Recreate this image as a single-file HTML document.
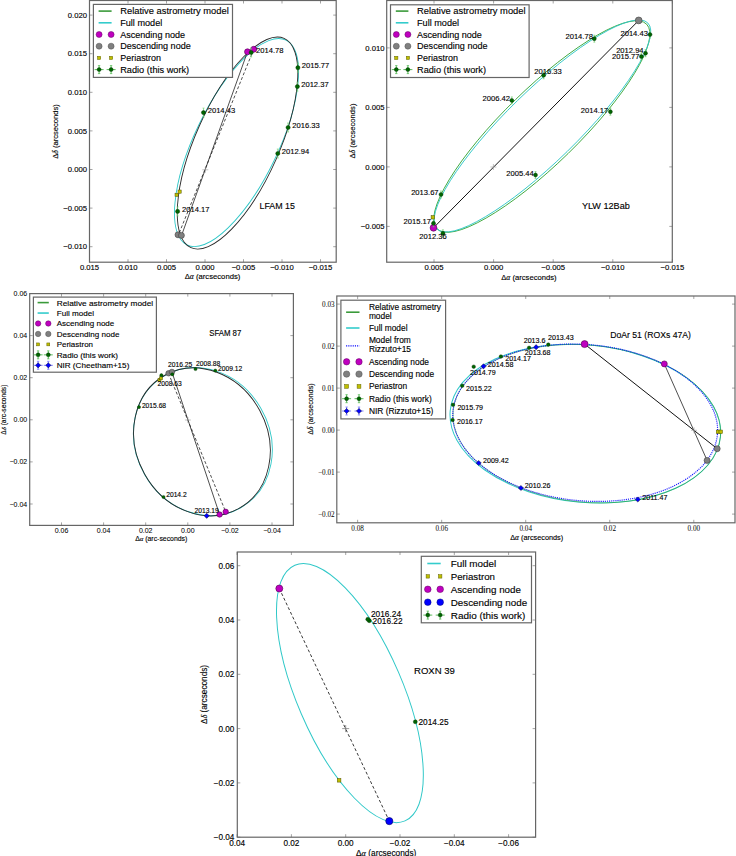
<!DOCTYPE html>
<html><head><meta charset="utf-8"><style>
html,body{margin:0;padding:0;background:#fff;}
body{width:736px;height:856px;overflow:hidden;}
svg{display:block;}
</style></head><body>
<svg width="736" height="856" viewBox="0 0 736 856">
<rect width="736" height="856" fill="#fff"/>
<clipPath id="c1"><rect x="89.5" y="0.5" width="246.7" height="261.7"/></clipPath>
<g clip-path="url(#c1)">
<ellipse cx="236.53" cy="142.57" rx="113.74" ry="41.66" transform="rotate(-64.226 236.53 142.57)" fill="none" stroke="#30c8c8" stroke-width="0.9"/>
<ellipse cx="237.53" cy="143.05" rx="114.56" ry="41.85" transform="rotate(-65.997 237.53 143.05)" fill="none" stroke="#2a2a2a" stroke-width="0.9"/>
<line x1="247.50" y1="51.80" x2="181.50" y2="235.60" stroke="#222" stroke-width="0.8"/>
<line x1="253.70" y1="49.30" x2="178.30" y2="235.20" stroke="#222" stroke-width="0.8" stroke-dasharray="3,2"/>
<line x1="202.30" y1="169.80" x2="208.30" y2="169.80" stroke="#999" stroke-width="0.6"/>
<line x1="205.30" y1="166.80" x2="205.30" y2="172.80" stroke="#999" stroke-width="0.6"/>
<rect x="175.00" y="193.20" width="3.2" height="3.2" fill="#bfbf00" stroke="#505000" stroke-width="0.5"/>
<rect x="178.00" y="190.00" width="3.2" height="3.2" fill="#bfbf00" stroke="#505000" stroke-width="0.5"/>
<circle cx="178.00" cy="234.80" r="3.0" fill="#808080" stroke="#404040" stroke-width="0.6"/>
<circle cx="181.40" cy="235.40" r="3.0" fill="#808080" stroke="#404040" stroke-width="0.6"/>
<circle cx="247.50" cy="51.80" r="3.0" fill="#bf00bf" stroke="#500050" stroke-width="0.6"/>
<circle cx="253.70" cy="49.30" r="3.0" fill="#bf00bf" stroke="#500050" stroke-width="0.6"/>
<line x1="250.20" y1="52.50" x2="252.20" y2="52.50" stroke="#6fcf6f" stroke-width="0.7"/>
<line x1="251.20" y1="48.00" x2="251.20" y2="57.00" stroke="#6fcf6f" stroke-width="0.7"/>
<line x1="250.20" y1="48.00" x2="252.20" y2="48.00" stroke="#6fcf6f" stroke-width="0.6"/>
<line x1="250.20" y1="57.00" x2="252.20" y2="57.00" stroke="#6fcf6f" stroke-width="0.6"/>
<circle cx="251.20" cy="52.50" r="2.1" fill="#006400" stroke="#003000" stroke-width="0.4"/>
<text x="256.00" y="53.34" font-size="7.6" text-anchor="start" font-family='"Liberation Sans", sans-serif' fill="#000" stroke="#000" stroke-width="0.13">2014.78</text>
<line x1="296.90" y1="67.70" x2="298.90" y2="67.70" stroke="#6fcf6f" stroke-width="0.7"/>
<line x1="297.90" y1="63.20" x2="297.90" y2="72.20" stroke="#6fcf6f" stroke-width="0.7"/>
<line x1="296.90" y1="63.20" x2="298.90" y2="63.20" stroke="#6fcf6f" stroke-width="0.6"/>
<line x1="296.90" y1="72.20" x2="298.90" y2="72.20" stroke="#6fcf6f" stroke-width="0.6"/>
<circle cx="297.90" cy="67.70" r="2.1" fill="#006400" stroke="#003000" stroke-width="0.4"/>
<text x="301.80" y="68.24" font-size="7.6" text-anchor="start" font-family='"Liberation Sans", sans-serif' fill="#000" stroke="#000" stroke-width="0.13">2015.77</text>
<line x1="296.40" y1="86.60" x2="298.40" y2="86.60" stroke="#6fcf6f" stroke-width="0.7"/>
<line x1="297.40" y1="82.10" x2="297.40" y2="91.10" stroke="#6fcf6f" stroke-width="0.7"/>
<line x1="296.40" y1="82.10" x2="298.40" y2="82.10" stroke="#6fcf6f" stroke-width="0.6"/>
<line x1="296.40" y1="91.10" x2="298.40" y2="91.10" stroke="#6fcf6f" stroke-width="0.6"/>
<circle cx="297.40" cy="86.60" r="2.1" fill="#006400" stroke="#003000" stroke-width="0.4"/>
<text x="301.20" y="87.24" font-size="7.6" text-anchor="start" font-family='"Liberation Sans", sans-serif' fill="#000" stroke="#000" stroke-width="0.13">2012.37</text>
<line x1="202.50" y1="112.60" x2="204.50" y2="112.60" stroke="#6fcf6f" stroke-width="0.7"/>
<line x1="203.50" y1="108.10" x2="203.50" y2="117.10" stroke="#6fcf6f" stroke-width="0.7"/>
<line x1="202.50" y1="108.10" x2="204.50" y2="108.10" stroke="#6fcf6f" stroke-width="0.6"/>
<line x1="202.50" y1="117.10" x2="204.50" y2="117.10" stroke="#6fcf6f" stroke-width="0.6"/>
<circle cx="203.50" cy="112.60" r="2.1" fill="#006400" stroke="#003000" stroke-width="0.4"/>
<text x="207.70" y="113.04" font-size="7.6" text-anchor="start" font-family='"Liberation Sans", sans-serif' fill="#000" stroke="#000" stroke-width="0.13">2014.43</text>
<line x1="287.10" y1="127.50" x2="289.10" y2="127.50" stroke="#6fcf6f" stroke-width="0.7"/>
<line x1="288.10" y1="123.00" x2="288.10" y2="132.00" stroke="#6fcf6f" stroke-width="0.7"/>
<line x1="287.10" y1="123.00" x2="289.10" y2="123.00" stroke="#6fcf6f" stroke-width="0.6"/>
<line x1="287.10" y1="132.00" x2="289.10" y2="132.00" stroke="#6fcf6f" stroke-width="0.6"/>
<circle cx="288.10" cy="127.50" r="2.1" fill="#006400" stroke="#003000" stroke-width="0.4"/>
<text x="292.30" y="127.74" font-size="7.6" text-anchor="start" font-family='"Liberation Sans", sans-serif' fill="#000" stroke="#000" stroke-width="0.13">2016.33</text>
<line x1="276.80" y1="153.50" x2="278.80" y2="153.50" stroke="#6fcf6f" stroke-width="0.7"/>
<line x1="277.80" y1="149.00" x2="277.80" y2="158.00" stroke="#6fcf6f" stroke-width="0.7"/>
<line x1="276.80" y1="149.00" x2="278.80" y2="149.00" stroke="#6fcf6f" stroke-width="0.6"/>
<line x1="276.80" y1="158.00" x2="278.80" y2="158.00" stroke="#6fcf6f" stroke-width="0.6"/>
<circle cx="277.80" cy="153.50" r="2.1" fill="#006400" stroke="#003000" stroke-width="0.4"/>
<text x="281.80" y="154.24" font-size="7.6" text-anchor="start" font-family='"Liberation Sans", sans-serif' fill="#000" stroke="#000" stroke-width="0.13">2012.94</text>
<line x1="176.60" y1="211.40" x2="178.60" y2="211.40" stroke="#6fcf6f" stroke-width="0.7"/>
<line x1="177.60" y1="206.90" x2="177.60" y2="215.90" stroke="#6fcf6f" stroke-width="0.7"/>
<line x1="176.60" y1="206.90" x2="178.60" y2="206.90" stroke="#6fcf6f" stroke-width="0.6"/>
<line x1="176.60" y1="215.90" x2="178.60" y2="215.90" stroke="#6fcf6f" stroke-width="0.6"/>
<circle cx="177.60" cy="211.40" r="2.1" fill="#006400" stroke="#003000" stroke-width="0.4"/>
<text x="182.00" y="211.74" font-size="7.6" text-anchor="start" font-family='"Liberation Sans", sans-serif' fill="#000" stroke="#000" stroke-width="0.13">2014.17</text>
</g>
<rect x="89.5" y="0.5" width="246.7" height="261.7" fill="none" stroke="#666666" stroke-width="1.2"/>
<line x1="89.50" y1="0.50" x2="89.50" y2="3.50" stroke="#666666" stroke-width="0.6"/>
<line x1="89.50" y1="262.20" x2="89.50" y2="259.20" stroke="#666666" stroke-width="0.6"/>
<line x1="128.00" y1="0.50" x2="128.00" y2="3.50" stroke="#666666" stroke-width="0.6"/>
<line x1="128.00" y1="262.20" x2="128.00" y2="259.20" stroke="#666666" stroke-width="0.6"/>
<line x1="166.50" y1="0.50" x2="166.50" y2="3.50" stroke="#666666" stroke-width="0.6"/>
<line x1="166.50" y1="262.20" x2="166.50" y2="259.20" stroke="#666666" stroke-width="0.6"/>
<line x1="205.00" y1="0.50" x2="205.00" y2="3.50" stroke="#666666" stroke-width="0.6"/>
<line x1="205.00" y1="262.20" x2="205.00" y2="259.20" stroke="#666666" stroke-width="0.6"/>
<line x1="243.50" y1="0.50" x2="243.50" y2="3.50" stroke="#666666" stroke-width="0.6"/>
<line x1="243.50" y1="262.20" x2="243.50" y2="259.20" stroke="#666666" stroke-width="0.6"/>
<line x1="282.00" y1="0.50" x2="282.00" y2="3.50" stroke="#666666" stroke-width="0.6"/>
<line x1="282.00" y1="262.20" x2="282.00" y2="259.20" stroke="#666666" stroke-width="0.6"/>
<line x1="320.50" y1="0.50" x2="320.50" y2="3.50" stroke="#666666" stroke-width="0.6"/>
<line x1="320.50" y1="262.20" x2="320.50" y2="259.20" stroke="#666666" stroke-width="0.6"/>
<line x1="89.50" y1="15.10" x2="92.50" y2="15.10" stroke="#666666" stroke-width="0.6"/>
<line x1="336.20" y1="15.10" x2="333.20" y2="15.10" stroke="#666666" stroke-width="0.6"/>
<line x1="89.50" y1="53.70" x2="92.50" y2="53.70" stroke="#666666" stroke-width="0.6"/>
<line x1="336.20" y1="53.70" x2="333.20" y2="53.70" stroke="#666666" stroke-width="0.6"/>
<line x1="89.50" y1="92.30" x2="92.50" y2="92.30" stroke="#666666" stroke-width="0.6"/>
<line x1="336.20" y1="92.30" x2="333.20" y2="92.30" stroke="#666666" stroke-width="0.6"/>
<line x1="89.50" y1="130.90" x2="92.50" y2="130.90" stroke="#666666" stroke-width="0.6"/>
<line x1="336.20" y1="130.90" x2="333.20" y2="130.90" stroke="#666666" stroke-width="0.6"/>
<line x1="89.50" y1="169.50" x2="92.50" y2="169.50" stroke="#666666" stroke-width="0.6"/>
<line x1="336.20" y1="169.50" x2="333.20" y2="169.50" stroke="#666666" stroke-width="0.6"/>
<line x1="89.50" y1="208.10" x2="92.50" y2="208.10" stroke="#666666" stroke-width="0.6"/>
<line x1="336.20" y1="208.10" x2="333.20" y2="208.10" stroke="#666666" stroke-width="0.6"/>
<line x1="89.50" y1="246.70" x2="92.50" y2="246.70" stroke="#666666" stroke-width="0.6"/>
<line x1="336.20" y1="246.70" x2="333.20" y2="246.70" stroke="#666666" stroke-width="0.6"/>
<text x="89.50" y="270.37" font-size="7.7" text-anchor="middle" font-family='"Liberation Sans", sans-serif' fill="#000" stroke="#000" stroke-width="0.13">0.015</text>
<text x="128.00" y="270.37" font-size="7.7" text-anchor="middle" font-family='"Liberation Sans", sans-serif' fill="#000" stroke="#000" stroke-width="0.13">0.010</text>
<text x="166.50" y="270.37" font-size="7.7" text-anchor="middle" font-family='"Liberation Sans", sans-serif' fill="#000" stroke="#000" stroke-width="0.13">0.005</text>
<text x="205.00" y="270.37" font-size="7.7" text-anchor="middle" font-family='"Liberation Sans", sans-serif' fill="#000" stroke="#000" stroke-width="0.13">0.000</text>
<text x="243.50" y="270.37" font-size="7.7" text-anchor="middle" font-family='"Liberation Sans", sans-serif' fill="#000" stroke="#000" stroke-width="0.13">&#8722;0.005</text>
<text x="282.00" y="270.37" font-size="7.7" text-anchor="middle" font-family='"Liberation Sans", sans-serif' fill="#000" stroke="#000" stroke-width="0.13">&#8722;0.010</text>
<text x="320.50" y="270.37" font-size="7.7" text-anchor="middle" font-family='"Liberation Sans", sans-serif' fill="#000" stroke="#000" stroke-width="0.13">&#8722;0.015</text>
<text x="87.00" y="17.87" font-size="7.7" text-anchor="end" font-family='"Liberation Sans", sans-serif' fill="#000" stroke="#000" stroke-width="0.13">0.020</text>
<text x="87.00" y="56.47" font-size="7.7" text-anchor="end" font-family='"Liberation Sans", sans-serif' fill="#000" stroke="#000" stroke-width="0.13">0.015</text>
<text x="87.00" y="95.07" font-size="7.7" text-anchor="end" font-family='"Liberation Sans", sans-serif' fill="#000" stroke="#000" stroke-width="0.13">0.010</text>
<text x="87.00" y="133.67" font-size="7.7" text-anchor="end" font-family='"Liberation Sans", sans-serif' fill="#000" stroke="#000" stroke-width="0.13">0.005</text>
<text x="87.00" y="172.27" font-size="7.7" text-anchor="end" font-family='"Liberation Sans", sans-serif' fill="#000" stroke="#000" stroke-width="0.13">0.000</text>
<text x="87.00" y="210.87" font-size="7.7" text-anchor="end" font-family='"Liberation Sans", sans-serif' fill="#000" stroke="#000" stroke-width="0.13">&#8722;0.005</text>
<text x="87.00" y="249.47" font-size="7.7" text-anchor="end" font-family='"Liberation Sans", sans-serif' fill="#000" stroke="#000" stroke-width="0.13">&#8722;0.010</text>
<text x="212.50" y="279.21" font-size="7.8" text-anchor="middle" font-family='"Liberation Sans", sans-serif' fill="#000" stroke="#000" stroke-width="0.13" textLength="55.7" lengthAdjust="spacingAndGlyphs">&#916;<tspan font-family='"Liberation Serif", serif' font-style="italic">&#945;</tspan> (arcseconds)</text>
<text x="55.30" y="134.31" font-size="7.8" text-anchor="middle" font-family='"Liberation Sans", sans-serif' fill="#000" stroke="#000" stroke-width="0.13" transform="rotate(-90 55.30 131.50)" textLength="54.7" lengthAdjust="spacingAndGlyphs">&#916;<tspan font-family='"Liberation Serif", serif' font-style="italic">&#948;</tspan> (arcseconds)</text>
<rect x="93.4" y="4.4" width="139.1" height="73.0" fill="#fff" stroke="#666666" stroke-width="1.2"/>
<line x1="98.60" y1="11.10" x2="111.60" y2="11.10" stroke="#3a9a3a" stroke-width="1.6"/>
<text x="120.20" y="14.38" font-size="9.1" text-anchor="start" font-family='"Liberation Sans", sans-serif' fill="#000" stroke="#000" stroke-width="0.13" textLength="108.6" lengthAdjust="spacingAndGlyphs">Relative astrometry model</text>
<line x1="98.60" y1="22.80" x2="111.60" y2="22.80" stroke="#33cccc" stroke-width="1.6"/>
<text x="120.20" y="26.08" font-size="9.1" text-anchor="start" font-family='"Liberation Sans", sans-serif' fill="#000" stroke="#000" stroke-width="0.13" textLength="42.1" lengthAdjust="spacingAndGlyphs">Full model</text>
<circle cx="99.10" cy="34.50" r="3.0" fill="#bf00bf" stroke="#600060" stroke-width="0.5"/>
<circle cx="111.10" cy="34.50" r="3.0" fill="#bf00bf" stroke="#600060" stroke-width="0.5"/>
<text x="120.20" y="37.78" font-size="9.1" text-anchor="start" font-family='"Liberation Sans", sans-serif' fill="#000" stroke="#000" stroke-width="0.13" textLength="64.9" lengthAdjust="spacingAndGlyphs">Ascending node</text>
<circle cx="99.10" cy="46.20" r="3.0" fill="#808080" stroke="#505050" stroke-width="0.5"/>
<circle cx="111.10" cy="46.20" r="3.0" fill="#808080" stroke="#505050" stroke-width="0.5"/>
<text x="120.20" y="49.48" font-size="9.1" text-anchor="start" font-family='"Liberation Sans", sans-serif' fill="#000" stroke="#000" stroke-width="0.13" textLength="70.6" lengthAdjust="spacingAndGlyphs">Descending node</text>
<rect x="97.50" y="56.30" width="3.2" height="3.2" fill="#bfbf00" stroke="#606000" stroke-width="0.5"/>
<rect x="109.50" y="56.30" width="3.2" height="3.2" fill="#bfbf00" stroke="#606000" stroke-width="0.5"/>
<text x="120.20" y="61.18" font-size="9.1" text-anchor="start" font-family='"Liberation Sans", sans-serif' fill="#000" stroke="#000" stroke-width="0.13" textLength="40.9" lengthAdjust="spacingAndGlyphs">Periastron</text>
<line x1="94.60" y1="69.60" x2="103.60" y2="69.60" stroke="#4cb84c" stroke-width="0.9"/>
<line x1="99.10" y1="65.60" x2="99.10" y2="73.60" stroke="#4cb84c" stroke-width="0.9"/>
<line x1="106.60" y1="69.60" x2="115.60" y2="69.60" stroke="#4cb84c" stroke-width="0.9"/>
<line x1="111.10" y1="65.60" x2="111.10" y2="73.60" stroke="#4cb84c" stroke-width="0.9"/>
<line x1="97.90" y1="65.60" x2="100.30" y2="65.60" stroke="#4cb84c" stroke-width="0.7"/>
<line x1="97.90" y1="73.60" x2="100.30" y2="73.60" stroke="#4cb84c" stroke-width="0.7"/>
<line x1="109.90" y1="65.60" x2="112.30" y2="65.60" stroke="#4cb84c" stroke-width="0.7"/>
<line x1="109.90" y1="73.60" x2="112.30" y2="73.60" stroke="#4cb84c" stroke-width="0.7"/>
<circle cx="99.10" cy="69.60" r="2.0" fill="#006400" stroke="#003000" stroke-width="0.4"/>
<circle cx="111.10" cy="69.60" r="2.0" fill="#006400" stroke="#003000" stroke-width="0.4"/>
<text x="120.20" y="72.88" font-size="9.1" text-anchor="start" font-family='"Liberation Sans", sans-serif' fill="#000" stroke="#000" stroke-width="0.13" textLength="69.0" lengthAdjust="spacingAndGlyphs">Radio (this work)</text>
<text x="259.50" y="208.73" font-size="9.4" text-anchor="start" font-family='"Liberation Sans", sans-serif' fill="#000" stroke="#000" stroke-width="0.13" textLength="35.5" lengthAdjust="spacingAndGlyphs">LFAM 15</text>
<clipPath id="c2"><rect x="386.7" y="0.5" width="285.59999999999997" height="261.7"/></clipPath>
<g clip-path="url(#c2)">
<ellipse cx="541.83" cy="126.54" rx="146.48" ry="37.67" transform="rotate(-44.299 541.83 126.54)" fill="none" stroke="#3aa63a" stroke-width="0.9"/>
<ellipse cx="542.40" cy="125.98" rx="147.38" ry="35.57" transform="rotate(-44.299 542.40 125.98)" fill="none" stroke="#30c8c8" stroke-width="0.9"/>
<line x1="433.50" y1="227.80" x2="638.70" y2="20.50" stroke="#111" stroke-width="1.0"/>
<line x1="490.40" y1="167.00" x2="496.40" y2="167.00" stroke="#999" stroke-width="0.6"/>
<line x1="493.40" y1="164.00" x2="493.40" y2="170.00" stroke="#999" stroke-width="0.6"/>
<rect x="431.10" y="215.60" width="3.4" height="3.4" fill="#bfbf00" stroke="#505000" stroke-width="0.5"/>
<circle cx="433.50" cy="227.80" r="3.4" fill="#bf00bf" stroke="#500050" stroke-width="0.6"/>
<circle cx="638.70" cy="20.40" r="3.4" fill="#808080" stroke="#404040" stroke-width="0.6"/>
<line x1="593.30" y1="38.70" x2="595.30" y2="38.70" stroke="#6fcf6f" stroke-width="0.7"/>
<line x1="594.30" y1="35.20" x2="594.30" y2="42.20" stroke="#6fcf6f" stroke-width="0.7"/>
<line x1="593.30" y1="35.20" x2="595.30" y2="35.20" stroke="#6fcf6f" stroke-width="0.6"/>
<line x1="593.30" y1="42.20" x2="595.30" y2="42.20" stroke="#6fcf6f" stroke-width="0.6"/>
<circle cx="594.30" cy="38.70" r="2.0" fill="#006400" stroke="#003000" stroke-width="0.4"/>
<text x="592.90" y="39.24" font-size="7.6" text-anchor="end" font-family='"Liberation Sans", sans-serif' fill="#000" stroke="#000" stroke-width="0.13">2014.78</text>
<line x1="649.00" y1="34.60" x2="651.00" y2="34.60" stroke="#6fcf6f" stroke-width="0.7"/>
<line x1="650.00" y1="31.10" x2="650.00" y2="38.10" stroke="#6fcf6f" stroke-width="0.7"/>
<line x1="649.00" y1="31.10" x2="651.00" y2="31.10" stroke="#6fcf6f" stroke-width="0.6"/>
<line x1="649.00" y1="38.10" x2="651.00" y2="38.10" stroke="#6fcf6f" stroke-width="0.6"/>
<circle cx="650.00" cy="34.60" r="2.0" fill="#006400" stroke="#003000" stroke-width="0.4"/>
<text x="647.90" y="35.64" font-size="7.6" text-anchor="end" font-family='"Liberation Sans", sans-serif' fill="#000" stroke="#000" stroke-width="0.13">2014.43</text>
<line x1="644.50" y1="53.20" x2="646.50" y2="53.20" stroke="#6fcf6f" stroke-width="0.7"/>
<line x1="645.50" y1="49.70" x2="645.50" y2="56.70" stroke="#6fcf6f" stroke-width="0.7"/>
<line x1="644.50" y1="49.70" x2="646.50" y2="49.70" stroke="#6fcf6f" stroke-width="0.6"/>
<line x1="644.50" y1="56.70" x2="646.50" y2="56.70" stroke="#6fcf6f" stroke-width="0.6"/>
<circle cx="645.50" cy="53.20" r="2.0" fill="#006400" stroke="#003000" stroke-width="0.4"/>
<text x="643.60" y="53.24" font-size="7.6" text-anchor="end" font-family='"Liberation Sans", sans-serif' fill="#000" stroke="#000" stroke-width="0.13">2012.94</text>
<line x1="640.40" y1="56.60" x2="642.40" y2="56.60" stroke="#6fcf6f" stroke-width="0.7"/>
<line x1="641.40" y1="53.10" x2="641.40" y2="60.10" stroke="#6fcf6f" stroke-width="0.7"/>
<line x1="640.40" y1="53.10" x2="642.40" y2="53.10" stroke="#6fcf6f" stroke-width="0.6"/>
<line x1="640.40" y1="60.10" x2="642.40" y2="60.10" stroke="#6fcf6f" stroke-width="0.6"/>
<circle cx="641.40" cy="56.60" r="2.0" fill="#006400" stroke="#003000" stroke-width="0.4"/>
<text x="639.50" y="59.34" font-size="7.6" text-anchor="end" font-family='"Liberation Sans", sans-serif' fill="#000" stroke="#000" stroke-width="0.13">2015.77</text>
<line x1="542.60" y1="75.30" x2="544.60" y2="75.30" stroke="#6fcf6f" stroke-width="0.7"/>
<line x1="543.60" y1="71.80" x2="543.60" y2="78.80" stroke="#6fcf6f" stroke-width="0.7"/>
<line x1="542.60" y1="71.80" x2="544.60" y2="71.80" stroke="#6fcf6f" stroke-width="0.6"/>
<line x1="542.60" y1="78.80" x2="544.60" y2="78.80" stroke="#6fcf6f" stroke-width="0.6"/>
<circle cx="543.60" cy="75.30" r="2.0" fill="#006400" stroke="#003000" stroke-width="0.4"/>
<text x="534.30" y="73.74" font-size="7.6" text-anchor="start" font-family='"Liberation Sans", sans-serif' fill="#000" stroke="#000" stroke-width="0.13">2016.33</text>
<line x1="510.80" y1="100.40" x2="512.80" y2="100.40" stroke="#6fcf6f" stroke-width="0.7"/>
<line x1="511.80" y1="96.90" x2="511.80" y2="103.90" stroke="#6fcf6f" stroke-width="0.7"/>
<line x1="510.80" y1="96.90" x2="512.80" y2="96.90" stroke="#6fcf6f" stroke-width="0.6"/>
<line x1="510.80" y1="103.90" x2="512.80" y2="103.90" stroke="#6fcf6f" stroke-width="0.6"/>
<circle cx="511.80" cy="100.40" r="2.0" fill="#006400" stroke="#003000" stroke-width="0.4"/>
<text x="510.00" y="100.74" font-size="7.6" text-anchor="end" font-family='"Liberation Sans", sans-serif' fill="#000" stroke="#000" stroke-width="0.13">2006.42</text>
<line x1="609.40" y1="111.70" x2="611.40" y2="111.70" stroke="#6fcf6f" stroke-width="0.7"/>
<line x1="610.40" y1="108.20" x2="610.40" y2="115.20" stroke="#6fcf6f" stroke-width="0.7"/>
<line x1="609.40" y1="108.20" x2="611.40" y2="108.20" stroke="#6fcf6f" stroke-width="0.6"/>
<line x1="609.40" y1="115.20" x2="611.40" y2="115.20" stroke="#6fcf6f" stroke-width="0.6"/>
<circle cx="610.40" cy="111.70" r="2.0" fill="#006400" stroke="#003000" stroke-width="0.4"/>
<text x="608.30" y="112.74" font-size="7.6" text-anchor="end" font-family='"Liberation Sans", sans-serif' fill="#000" stroke="#000" stroke-width="0.13">2014.17</text>
<line x1="534.50" y1="175.00" x2="536.50" y2="175.00" stroke="#6fcf6f" stroke-width="0.7"/>
<line x1="535.50" y1="171.50" x2="535.50" y2="178.50" stroke="#6fcf6f" stroke-width="0.7"/>
<line x1="534.50" y1="171.50" x2="536.50" y2="171.50" stroke="#6fcf6f" stroke-width="0.6"/>
<line x1="534.50" y1="178.50" x2="536.50" y2="178.50" stroke="#6fcf6f" stroke-width="0.6"/>
<circle cx="535.50" cy="175.00" r="2.0" fill="#006400" stroke="#003000" stroke-width="0.4"/>
<text x="533.70" y="175.74" font-size="7.6" text-anchor="end" font-family='"Liberation Sans", sans-serif' fill="#000" stroke="#000" stroke-width="0.13">2005.44</text>
<line x1="440.00" y1="194.50" x2="442.00" y2="194.50" stroke="#6fcf6f" stroke-width="0.7"/>
<line x1="441.00" y1="191.00" x2="441.00" y2="198.00" stroke="#6fcf6f" stroke-width="0.7"/>
<line x1="440.00" y1="191.00" x2="442.00" y2="191.00" stroke="#6fcf6f" stroke-width="0.6"/>
<line x1="440.00" y1="198.00" x2="442.00" y2="198.00" stroke="#6fcf6f" stroke-width="0.6"/>
<circle cx="441.00" cy="194.50" r="2.0" fill="#006400" stroke="#003000" stroke-width="0.4"/>
<text x="438.60" y="195.04" font-size="7.6" text-anchor="end" font-family='"Liberation Sans", sans-serif' fill="#000" stroke="#000" stroke-width="0.13">2013.67</text>
<line x1="432.50" y1="223.30" x2="434.50" y2="223.30" stroke="#6fcf6f" stroke-width="0.7"/>
<line x1="433.50" y1="219.80" x2="433.50" y2="226.80" stroke="#6fcf6f" stroke-width="0.7"/>
<line x1="432.50" y1="219.80" x2="434.50" y2="219.80" stroke="#6fcf6f" stroke-width="0.6"/>
<line x1="432.50" y1="226.80" x2="434.50" y2="226.80" stroke="#6fcf6f" stroke-width="0.6"/>
<circle cx="433.50" cy="223.30" r="2.0" fill="#006400" stroke="#003000" stroke-width="0.4"/>
<text x="431.00" y="223.84" font-size="7.6" text-anchor="end" font-family='"Liberation Sans", sans-serif' fill="#000" stroke="#000" stroke-width="0.13">2015.17</text>
<line x1="441.90" y1="233.30" x2="443.90" y2="233.30" stroke="#6fcf6f" stroke-width="0.7"/>
<line x1="442.90" y1="229.80" x2="442.90" y2="236.80" stroke="#6fcf6f" stroke-width="0.7"/>
<line x1="441.90" y1="229.80" x2="443.90" y2="229.80" stroke="#6fcf6f" stroke-width="0.6"/>
<line x1="441.90" y1="236.80" x2="443.90" y2="236.80" stroke="#6fcf6f" stroke-width="0.6"/>
<circle cx="442.90" cy="233.30" r="2.0" fill="#006400" stroke="#003000" stroke-width="0.4"/>
<text x="433.00" y="238.54" font-size="7.6" text-anchor="middle" font-family='"Liberation Sans", sans-serif' fill="#000" stroke="#000" stroke-width="0.13">2012.36</text>
</g>
<rect x="386.7" y="0.5" width="285.59999999999997" height="261.7" fill="none" stroke="#666666" stroke-width="1.2"/>
<line x1="434.00" y1="0.50" x2="434.00" y2="3.50" stroke="#666666" stroke-width="0.6"/>
<line x1="434.00" y1="262.20" x2="434.00" y2="259.20" stroke="#666666" stroke-width="0.6"/>
<line x1="493.60" y1="0.50" x2="493.60" y2="3.50" stroke="#666666" stroke-width="0.6"/>
<line x1="493.60" y1="262.20" x2="493.60" y2="259.20" stroke="#666666" stroke-width="0.6"/>
<line x1="553.20" y1="0.50" x2="553.20" y2="3.50" stroke="#666666" stroke-width="0.6"/>
<line x1="553.20" y1="262.20" x2="553.20" y2="259.20" stroke="#666666" stroke-width="0.6"/>
<line x1="612.80" y1="0.50" x2="612.80" y2="3.50" stroke="#666666" stroke-width="0.6"/>
<line x1="612.80" y1="262.20" x2="612.80" y2="259.20" stroke="#666666" stroke-width="0.6"/>
<line x1="672.40" y1="0.50" x2="672.40" y2="3.50" stroke="#666666" stroke-width="0.6"/>
<line x1="672.40" y1="262.20" x2="672.40" y2="259.20" stroke="#666666" stroke-width="0.6"/>
<line x1="386.70" y1="47.90" x2="389.70" y2="47.90" stroke="#666666" stroke-width="0.6"/>
<line x1="672.30" y1="47.90" x2="669.30" y2="47.90" stroke="#666666" stroke-width="0.6"/>
<line x1="386.70" y1="107.40" x2="389.70" y2="107.40" stroke="#666666" stroke-width="0.6"/>
<line x1="672.30" y1="107.40" x2="669.30" y2="107.40" stroke="#666666" stroke-width="0.6"/>
<line x1="386.70" y1="166.90" x2="389.70" y2="166.90" stroke="#666666" stroke-width="0.6"/>
<line x1="672.30" y1="166.90" x2="669.30" y2="166.90" stroke="#666666" stroke-width="0.6"/>
<line x1="386.70" y1="226.40" x2="389.70" y2="226.40" stroke="#666666" stroke-width="0.6"/>
<line x1="672.30" y1="226.40" x2="669.30" y2="226.40" stroke="#666666" stroke-width="0.6"/>
<text x="434.00" y="270.17" font-size="7.7" text-anchor="middle" font-family='"Liberation Sans", sans-serif' fill="#000" stroke="#000" stroke-width="0.13">0.005</text>
<text x="493.60" y="270.17" font-size="7.7" text-anchor="middle" font-family='"Liberation Sans", sans-serif' fill="#000" stroke="#000" stroke-width="0.13">0.000</text>
<text x="553.20" y="270.17" font-size="7.7" text-anchor="middle" font-family='"Liberation Sans", sans-serif' fill="#000" stroke="#000" stroke-width="0.13">&#8722;0.005</text>
<text x="612.80" y="270.17" font-size="7.7" text-anchor="middle" font-family='"Liberation Sans", sans-serif' fill="#000" stroke="#000" stroke-width="0.13">&#8722;0.010</text>
<text x="672.40" y="270.17" font-size="7.7" text-anchor="middle" font-family='"Liberation Sans", sans-serif' fill="#000" stroke="#000" stroke-width="0.13">&#8722;0.015</text>
<text x="384.50" y="50.67" font-size="7.7" text-anchor="end" font-family='"Liberation Sans", sans-serif' fill="#000" stroke="#000" stroke-width="0.13">0.010</text>
<text x="384.50" y="110.17" font-size="7.7" text-anchor="end" font-family='"Liberation Sans", sans-serif' fill="#000" stroke="#000" stroke-width="0.13">0.005</text>
<text x="384.50" y="169.67" font-size="7.7" text-anchor="end" font-family='"Liberation Sans", sans-serif' fill="#000" stroke="#000" stroke-width="0.13">0.000</text>
<text x="384.50" y="229.17" font-size="7.7" text-anchor="end" font-family='"Liberation Sans", sans-serif' fill="#000" stroke="#000" stroke-width="0.13">&#8722;0.005</text>
<text x="528.90" y="279.51" font-size="7.8" text-anchor="middle" font-family='"Liberation Sans", sans-serif' fill="#000" stroke="#000" stroke-width="0.13" textLength="55.5" lengthAdjust="spacingAndGlyphs">&#916;<tspan font-family='"Liberation Serif", serif' font-style="italic">&#945;</tspan> (arcseconds)</text>
<text x="352.60" y="133.81" font-size="7.8" text-anchor="middle" font-family='"Liberation Sans", sans-serif' fill="#000" stroke="#000" stroke-width="0.13" transform="rotate(-90 352.60 131.00)" textLength="55.0" lengthAdjust="spacingAndGlyphs">&#916;<tspan font-family='"Liberation Serif", serif' font-style="italic">&#948;</tspan> (arcseconds)</text>
<rect x="390.5" y="4.8" width="138.60000000000002" height="72.7" fill="#fff" stroke="#666666" stroke-width="1.2"/>
<line x1="395.80" y1="11.10" x2="408.40" y2="11.10" stroke="#3a9a3a" stroke-width="1.6"/>
<text x="417.00" y="14.38" font-size="9.1" text-anchor="start" font-family='"Liberation Sans", sans-serif' fill="#000" stroke="#000" stroke-width="0.13" textLength="108.6" lengthAdjust="spacingAndGlyphs">Relative astrometry model</text>
<line x1="395.80" y1="22.80" x2="408.40" y2="22.80" stroke="#33cccc" stroke-width="1.6"/>
<text x="417.00" y="26.08" font-size="9.1" text-anchor="start" font-family='"Liberation Sans", sans-serif' fill="#000" stroke="#000" stroke-width="0.13" textLength="42.1" lengthAdjust="spacingAndGlyphs">Full model</text>
<circle cx="396.30" cy="34.50" r="3.0" fill="#bf00bf" stroke="#600060" stroke-width="0.5"/>
<circle cx="407.90" cy="34.50" r="3.0" fill="#bf00bf" stroke="#600060" stroke-width="0.5"/>
<text x="417.00" y="37.78" font-size="9.1" text-anchor="start" font-family='"Liberation Sans", sans-serif' fill="#000" stroke="#000" stroke-width="0.13" textLength="64.9" lengthAdjust="spacingAndGlyphs">Ascending node</text>
<circle cx="396.30" cy="46.20" r="3.0" fill="#808080" stroke="#505050" stroke-width="0.5"/>
<circle cx="407.90" cy="46.20" r="3.0" fill="#808080" stroke="#505050" stroke-width="0.5"/>
<text x="417.00" y="49.48" font-size="9.1" text-anchor="start" font-family='"Liberation Sans", sans-serif' fill="#000" stroke="#000" stroke-width="0.13" textLength="70.6" lengthAdjust="spacingAndGlyphs">Descending node</text>
<rect x="394.70" y="56.30" width="3.2" height="3.2" fill="#bfbf00" stroke="#606000" stroke-width="0.5"/>
<rect x="406.30" y="56.30" width="3.2" height="3.2" fill="#bfbf00" stroke="#606000" stroke-width="0.5"/>
<text x="417.00" y="61.18" font-size="9.1" text-anchor="start" font-family='"Liberation Sans", sans-serif' fill="#000" stroke="#000" stroke-width="0.13" textLength="40.9" lengthAdjust="spacingAndGlyphs">Periastron</text>
<line x1="391.80" y1="69.60" x2="400.80" y2="69.60" stroke="#4cb84c" stroke-width="0.9"/>
<line x1="396.30" y1="65.60" x2="396.30" y2="73.60" stroke="#4cb84c" stroke-width="0.9"/>
<line x1="403.40" y1="69.60" x2="412.40" y2="69.60" stroke="#4cb84c" stroke-width="0.9"/>
<line x1="407.90" y1="65.60" x2="407.90" y2="73.60" stroke="#4cb84c" stroke-width="0.9"/>
<line x1="395.10" y1="65.60" x2="397.50" y2="65.60" stroke="#4cb84c" stroke-width="0.7"/>
<line x1="395.10" y1="73.60" x2="397.50" y2="73.60" stroke="#4cb84c" stroke-width="0.7"/>
<line x1="406.70" y1="65.60" x2="409.10" y2="65.60" stroke="#4cb84c" stroke-width="0.7"/>
<line x1="406.70" y1="73.60" x2="409.10" y2="73.60" stroke="#4cb84c" stroke-width="0.7"/>
<circle cx="396.30" cy="69.60" r="2.0" fill="#006400" stroke="#003000" stroke-width="0.4"/>
<circle cx="407.90" cy="69.60" r="2.0" fill="#006400" stroke="#003000" stroke-width="0.4"/>
<text x="417.00" y="72.88" font-size="9.1" text-anchor="start" font-family='"Liberation Sans", sans-serif' fill="#000" stroke="#000" stroke-width="0.13" textLength="69.0" lengthAdjust="spacingAndGlyphs">Radio (this work)</text>
<text x="581.90" y="209.08" font-size="9.4" text-anchor="start" font-family='"Liberation Sans", sans-serif' fill="#000" stroke="#000" stroke-width="0.13" textLength="47.9" lengthAdjust="spacingAndGlyphs">YLW 12Bab</text>
<clipPath id="c3"><rect x="29.7" y="293.6" width="263.7" height="231.79999999999995"/></clipPath>
<g clip-path="url(#c3)">
<ellipse cx="202.86" cy="441.61" rx="76.24" ry="66.89" transform="rotate(59.574 202.86 441.61)" fill="none" stroke="#30c8c8" stroke-width="0.9"/>
<ellipse cx="201.95" cy="441.83" rx="76.21" ry="65.76" transform="rotate(61.287 201.95 441.83)" fill="none" stroke="#2a2a2a" stroke-width="0.9"/>
<line x1="171.90" y1="371.90" x2="219.60" y2="514.50" stroke="#222" stroke-width="0.8"/>
<line x1="168.50" y1="373.30" x2="225.70" y2="511.80" stroke="#222" stroke-width="0.8" stroke-dasharray="3,2"/>
<line x1="184.90" y1="420.00" x2="190.90" y2="420.00" stroke="#999" stroke-width="0.6"/>
<line x1="187.90" y1="417.00" x2="187.90" y2="423.00" stroke="#999" stroke-width="0.6"/>
<rect x="158.00" y="378.50" width="3.0" height="3.0" fill="#bfbf00" stroke="#505000" stroke-width="0.5"/>
<rect x="159.50" y="376.80" width="3.0" height="3.0" fill="#bfbf00" stroke="#505000" stroke-width="0.5"/>
<circle cx="168.50" cy="373.30" r="2.7" fill="#808080" stroke="#404040" stroke-width="0.6"/>
<circle cx="171.90" cy="371.90" r="2.7" fill="#808080" stroke="#404040" stroke-width="0.6"/>
<circle cx="219.60" cy="514.50" r="2.7" fill="#bf00bf" stroke="#500050" stroke-width="0.6"/>
<circle cx="225.70" cy="511.80" r="2.7" fill="#bf00bf" stroke="#500050" stroke-width="0.6"/>
<circle cx="161.40" cy="375.20" r="1.6" fill="#006400" stroke="#003000" stroke-width="0.4"/>
<text x="157.60" y="385.71" font-size="6.7" text-anchor="start" font-family='"Liberation Sans", sans-serif' fill="#000" stroke="#000" stroke-width="0.13">2008.63</text>
<circle cx="172.30" cy="374.30" r="1.6" fill="#006400" stroke="#003000" stroke-width="0.4"/>
<text x="168.10" y="367.21" font-size="6.7" text-anchor="start" font-family='"Liberation Sans", sans-serif' fill="#000" stroke="#000" stroke-width="0.13">2016.25</text>
<circle cx="195.50" cy="369.00" r="1.6" fill="#006400" stroke="#003000" stroke-width="0.4"/>
<text x="196.00" y="365.71" font-size="6.7" text-anchor="start" font-family='"Liberation Sans", sans-serif' fill="#000" stroke="#000" stroke-width="0.13">2008.88</text>
<circle cx="215.30" cy="370.60" r="1.6" fill="#006400" stroke="#003000" stroke-width="0.4"/>
<text x="218.00" y="370.91" font-size="6.7" text-anchor="start" font-family='"Liberation Sans", sans-serif' fill="#000" stroke="#000" stroke-width="0.13">2009.12</text>
<circle cx="139.00" cy="407.10" r="1.6" fill="#006400" stroke="#003000" stroke-width="0.4"/>
<text x="141.90" y="407.61" font-size="6.7" text-anchor="start" font-family='"Liberation Sans", sans-serif' fill="#000" stroke="#000" stroke-width="0.13">2015.68</text>
<circle cx="163.50" cy="497.00" r="1.6" fill="#006400" stroke="#003000" stroke-width="0.4"/>
<text x="166.20" y="497.11" font-size="6.7" text-anchor="start" font-family='"Liberation Sans", sans-serif' fill="#000" stroke="#000" stroke-width="0.13">2014.2</text>
<path d="M206.70 513.20L209.30 515.80L206.70 518.40L204.10 515.80Z" fill="#0000ff" stroke="#000" stroke-width="0.4"/>
<text x="194.50" y="512.81" font-size="6.7" text-anchor="start" font-family='"Liberation Sans", sans-serif' fill="#000" stroke="#000" stroke-width="0.13">2013.19</text>
</g>
<rect x="29.7" y="293.6" width="263.7" height="231.79999999999995" fill="none" stroke="#666666" stroke-width="1.2"/>
<line x1="61.50" y1="293.60" x2="61.50" y2="296.60" stroke="#666666" stroke-width="0.6"/>
<line x1="61.50" y1="525.40" x2="61.50" y2="522.40" stroke="#666666" stroke-width="0.6"/>
<line x1="103.60" y1="293.60" x2="103.60" y2="296.60" stroke="#666666" stroke-width="0.6"/>
<line x1="103.60" y1="525.40" x2="103.60" y2="522.40" stroke="#666666" stroke-width="0.6"/>
<line x1="145.70" y1="293.60" x2="145.70" y2="296.60" stroke="#666666" stroke-width="0.6"/>
<line x1="145.70" y1="525.40" x2="145.70" y2="522.40" stroke="#666666" stroke-width="0.6"/>
<line x1="187.80" y1="293.60" x2="187.80" y2="296.60" stroke="#666666" stroke-width="0.6"/>
<line x1="187.80" y1="525.40" x2="187.80" y2="522.40" stroke="#666666" stroke-width="0.6"/>
<line x1="229.90" y1="293.60" x2="229.90" y2="296.60" stroke="#666666" stroke-width="0.6"/>
<line x1="229.90" y1="525.40" x2="229.90" y2="522.40" stroke="#666666" stroke-width="0.6"/>
<line x1="272.00" y1="293.60" x2="272.00" y2="296.60" stroke="#666666" stroke-width="0.6"/>
<line x1="272.00" y1="525.40" x2="272.00" y2="522.40" stroke="#666666" stroke-width="0.6"/>
<line x1="29.70" y1="293.50" x2="32.70" y2="293.50" stroke="#666666" stroke-width="0.6"/>
<line x1="293.40" y1="293.50" x2="290.40" y2="293.50" stroke="#666666" stroke-width="0.6"/>
<line x1="29.70" y1="335.60" x2="32.70" y2="335.60" stroke="#666666" stroke-width="0.6"/>
<line x1="293.40" y1="335.60" x2="290.40" y2="335.60" stroke="#666666" stroke-width="0.6"/>
<line x1="29.70" y1="377.70" x2="32.70" y2="377.70" stroke="#666666" stroke-width="0.6"/>
<line x1="293.40" y1="377.70" x2="290.40" y2="377.70" stroke="#666666" stroke-width="0.6"/>
<line x1="29.70" y1="419.80" x2="32.70" y2="419.80" stroke="#666666" stroke-width="0.6"/>
<line x1="293.40" y1="419.80" x2="290.40" y2="419.80" stroke="#666666" stroke-width="0.6"/>
<line x1="29.70" y1="461.90" x2="32.70" y2="461.90" stroke="#666666" stroke-width="0.6"/>
<line x1="293.40" y1="461.90" x2="290.40" y2="461.90" stroke="#666666" stroke-width="0.6"/>
<line x1="29.70" y1="504.00" x2="32.70" y2="504.00" stroke="#666666" stroke-width="0.6"/>
<line x1="293.40" y1="504.00" x2="290.40" y2="504.00" stroke="#666666" stroke-width="0.6"/>
<text x="61.50" y="532.82" font-size="7.0" text-anchor="middle" font-family='"Liberation Sans", sans-serif' fill="#000" stroke="#000" stroke-width="0.05">0.06</text>
<text x="103.60" y="532.82" font-size="7.0" text-anchor="middle" font-family='"Liberation Sans", sans-serif' fill="#000" stroke="#000" stroke-width="0.05">0.04</text>
<text x="145.70" y="532.82" font-size="7.0" text-anchor="middle" font-family='"Liberation Sans", sans-serif' fill="#000" stroke="#000" stroke-width="0.05">0.02</text>
<text x="187.80" y="532.82" font-size="7.0" text-anchor="middle" font-family='"Liberation Sans", sans-serif' fill="#000" stroke="#000" stroke-width="0.05">0.00</text>
<text x="229.90" y="532.82" font-size="7.0" text-anchor="middle" font-family='"Liberation Sans", sans-serif' fill="#000" stroke="#000" stroke-width="0.05">&#8722;0.02</text>
<text x="272.00" y="532.82" font-size="7.0" text-anchor="middle" font-family='"Liberation Sans", sans-serif' fill="#000" stroke="#000" stroke-width="0.05">&#8722;0.04</text>
<text x="27.20" y="296.02" font-size="7.0" text-anchor="end" font-family='"Liberation Sans", sans-serif' fill="#000" stroke="#000" stroke-width="0.05">0.06</text>
<text x="27.20" y="338.12" font-size="7.0" text-anchor="end" font-family='"Liberation Sans", sans-serif' fill="#000" stroke="#000" stroke-width="0.05">0.04</text>
<text x="27.20" y="380.22" font-size="7.0" text-anchor="end" font-family='"Liberation Sans", sans-serif' fill="#000" stroke="#000" stroke-width="0.05">0.02</text>
<text x="27.20" y="422.32" font-size="7.0" text-anchor="end" font-family='"Liberation Sans", sans-serif' fill="#000" stroke="#000" stroke-width="0.05">0.00</text>
<text x="27.20" y="464.42" font-size="7.0" text-anchor="end" font-family='"Liberation Sans", sans-serif' fill="#000" stroke="#000" stroke-width="0.05">&#8722;0.02</text>
<text x="27.20" y="506.52" font-size="7.0" text-anchor="end" font-family='"Liberation Sans", sans-serif' fill="#000" stroke="#000" stroke-width="0.05">&#8722;0.04</text>
<text x="161.20" y="540.82" font-size="7.0" text-anchor="middle" font-family='"Liberation Sans", sans-serif' fill="#000" stroke="#000" stroke-width="0.13" textLength="52.1" lengthAdjust="spacingAndGlyphs">&#916;<tspan font-family='"Liberation Serif", serif' font-style="italic">&#945;</tspan> (arc-seconds)</text>
<text x="3.20" y="412.22" font-size="7.0" text-anchor="middle" font-family='"Liberation Sans", sans-serif' fill="#000" stroke="#000" stroke-width="0.13" transform="rotate(-90 3.20 409.70)" textLength="50.2" lengthAdjust="spacingAndGlyphs">&#916;<tspan font-family='"Liberation Serif", serif' font-style="italic">&#948;</tspan> (arc-seconds)</text>
<rect x="33.4" y="297.1" width="123.0" height="75.09999999999997" fill="#fff" stroke="#666666" stroke-width="1.2"/>
<line x1="37.60" y1="302.60" x2="48.80" y2="302.60" stroke="#3a9a3a" stroke-width="1.6"/>
<text x="56.70" y="305.52" font-size="8.1" text-anchor="start" font-family='"Liberation Sans", sans-serif' fill="#000" stroke="#000" stroke-width="0.13" textLength="96.43679999999999" lengthAdjust="spacingAndGlyphs">Relative astrometry model</text>
<line x1="37.60" y1="313.05" x2="48.80" y2="313.05" stroke="#33cccc" stroke-width="1.6"/>
<text x="56.70" y="315.97" font-size="8.1" text-anchor="start" font-family='"Liberation Sans", sans-serif' fill="#000" stroke="#000" stroke-width="0.13" textLength="37.3848" lengthAdjust="spacingAndGlyphs">Full model</text>
<circle cx="38.10" cy="323.50" r="2.7" fill="#bf00bf" stroke="#600060" stroke-width="0.5"/>
<circle cx="48.30" cy="323.50" r="2.7" fill="#bf00bf" stroke="#600060" stroke-width="0.5"/>
<text x="56.70" y="326.42" font-size="8.1" text-anchor="start" font-family='"Liberation Sans", sans-serif' fill="#000" stroke="#000" stroke-width="0.13" textLength="57.63120000000001" lengthAdjust="spacingAndGlyphs">Ascending node</text>
<circle cx="38.10" cy="333.95" r="2.7" fill="#808080" stroke="#505050" stroke-width="0.5"/>
<circle cx="48.30" cy="333.95" r="2.7" fill="#808080" stroke="#505050" stroke-width="0.5"/>
<text x="56.70" y="336.87" font-size="8.1" text-anchor="start" font-family='"Liberation Sans", sans-serif' fill="#000" stroke="#000" stroke-width="0.13" textLength="62.6928" lengthAdjust="spacingAndGlyphs">Descending node</text>
<rect x="36.65" y="342.95" width="2.9" height="2.9" fill="#bfbf00" stroke="#606000" stroke-width="0.5"/>
<rect x="46.85" y="342.95" width="2.9" height="2.9" fill="#bfbf00" stroke="#606000" stroke-width="0.5"/>
<text x="56.70" y="347.32" font-size="8.1" text-anchor="start" font-family='"Liberation Sans", sans-serif' fill="#000" stroke="#000" stroke-width="0.13" textLength="36.3192" lengthAdjust="spacingAndGlyphs">Periastron</text>
<line x1="33.60" y1="354.85" x2="42.60" y2="354.85" stroke="#4cb84c" stroke-width="0.9"/>
<line x1="38.10" y1="350.85" x2="38.10" y2="358.85" stroke="#4cb84c" stroke-width="0.9"/>
<line x1="43.80" y1="354.85" x2="52.80" y2="354.85" stroke="#4cb84c" stroke-width="0.9"/>
<line x1="48.30" y1="350.85" x2="48.30" y2="358.85" stroke="#4cb84c" stroke-width="0.9"/>
<line x1="36.90" y1="350.85" x2="39.30" y2="350.85" stroke="#4cb84c" stroke-width="0.7"/>
<line x1="36.90" y1="358.85" x2="39.30" y2="358.85" stroke="#4cb84c" stroke-width="0.7"/>
<line x1="47.10" y1="350.85" x2="49.50" y2="350.85" stroke="#4cb84c" stroke-width="0.7"/>
<line x1="47.10" y1="358.85" x2="49.50" y2="358.85" stroke="#4cb84c" stroke-width="0.7"/>
<circle cx="38.10" cy="354.85" r="2.0" fill="#006400" stroke="#003000" stroke-width="0.4"/>
<circle cx="48.30" cy="354.85" r="2.0" fill="#006400" stroke="#003000" stroke-width="0.4"/>
<text x="56.70" y="357.77" font-size="8.1" text-anchor="start" font-family='"Liberation Sans", sans-serif' fill="#000" stroke="#000" stroke-width="0.13" textLength="61.272" lengthAdjust="spacingAndGlyphs">Radio (this work)</text>
<line x1="33.60" y1="365.30" x2="42.60" y2="365.30" stroke="#6f6fff" stroke-width="0.9"/>
<line x1="38.10" y1="361.30" x2="38.10" y2="369.30" stroke="#6f6fff" stroke-width="0.9"/>
<line x1="43.80" y1="365.30" x2="52.80" y2="365.30" stroke="#6f6fff" stroke-width="0.9"/>
<line x1="48.30" y1="361.30" x2="48.30" y2="369.30" stroke="#6f6fff" stroke-width="0.9"/>
<line x1="36.90" y1="361.30" x2="39.30" y2="361.30" stroke="#6f6fff" stroke-width="0.7"/>
<line x1="36.90" y1="369.30" x2="39.30" y2="369.30" stroke="#6f6fff" stroke-width="0.7"/>
<line x1="47.10" y1="361.30" x2="49.50" y2="361.30" stroke="#6f6fff" stroke-width="0.7"/>
<line x1="47.10" y1="369.30" x2="49.50" y2="369.30" stroke="#6f6fff" stroke-width="0.7"/>
<path d="M38.10 362.70L40.70 365.30L38.10 367.90L35.50 365.30Z" fill="#0000ff" stroke="#000" stroke-width="0.4"/>
<path d="M48.30 362.70L50.90 365.30L48.30 367.90L45.70 365.30Z" fill="#0000ff" stroke="#000" stroke-width="0.4"/>
<text x="56.70" y="368.22" font-size="8.1" text-anchor="start" font-family='"Liberation Sans", sans-serif' fill="#000" stroke="#000" stroke-width="0.13" textLength="72.6384" lengthAdjust="spacingAndGlyphs">NIR (Cheetham+15)</text>
<text x="209.20" y="336.02" font-size="8.4" text-anchor="start" font-family='"Liberation Sans", sans-serif' fill="#000" stroke="#000" stroke-width="0.13" textLength="32.1" lengthAdjust="spacingAndGlyphs">SFAM 87</text>
<clipPath id="c4"><rect x="336.8" y="296" width="398.2" height="226.79999999999995"/></clipPath>
<g clip-path="url(#c4)">
<ellipse cx="585.32" cy="423.67" rx="135.73" ry="78.68" transform="rotate(5.549 585.32 423.67)" fill="none" stroke="#30c8c8" stroke-width="1.0"/>
<ellipse cx="586.82" cy="423.67" rx="134.33" ry="78.58" transform="rotate(5.549 586.82 423.67)" fill="none" stroke="#2ea02e" stroke-width="0.9" stroke-opacity="0.6"/>
<ellipse cx="585.19" cy="422.74" rx="132.73" ry="78.14" transform="rotate(4.959 585.19 422.74)" fill="none" stroke="#1515ff" stroke-width="1.15" stroke-dasharray="1.1,1.0"/>
<line x1="584.60" y1="344.10" x2="717.20" y2="448.70" stroke="#111" stroke-width="1.0"/>
<line x1="664.30" y1="363.90" x2="707.10" y2="460.40" stroke="#222" stroke-width="0.8"/>
<line x1="691.00" y1="430.30" x2="697.00" y2="430.30" stroke="#999" stroke-width="0.6"/>
<line x1="694.00" y1="427.30" x2="694.00" y2="433.30" stroke="#999" stroke-width="0.6"/>
<rect x="716.25" y="430.05" width="3.5" height="3.5" fill="#bfbf00" stroke="#505000" stroke-width="0.5"/>
<rect x="718.95" y="430.05" width="3.5" height="3.5" fill="#bfbf00" stroke="#505000" stroke-width="0.5"/>
<circle cx="584.60" cy="344.10" r="3.5" fill="#bf00bf" stroke="#500050" stroke-width="0.6"/>
<circle cx="664.30" cy="363.90" r="3.0" fill="#bf00bf" stroke="#500050" stroke-width="0.6"/>
<circle cx="717.20" cy="448.70" r="3.0" fill="#808080" stroke="#404040" stroke-width="0.6"/>
<circle cx="707.10" cy="460.40" r="3.0" fill="#808080" stroke="#404040" stroke-width="0.6"/>
<circle cx="548.30" cy="344.60" r="1.8" fill="#006400" stroke="#003000" stroke-width="0.4"/>
<text x="548.00" y="339.56" font-size="7.1" text-anchor="start" font-family='"Liberation Sans", sans-serif' fill="#000" stroke="#000" stroke-width="0.13">2013.43</text>
<circle cx="529.10" cy="347.80" r="1.8" fill="#006400" stroke="#003000" stroke-width="0.4"/>
<text x="523.70" y="343.26" font-size="7.1" text-anchor="start" font-family='"Liberation Sans", sans-serif' fill="#000" stroke="#000" stroke-width="0.13">2013.6</text>
<circle cx="500.90" cy="356.50" r="1.8" fill="#006400" stroke="#003000" stroke-width="0.4"/>
<text x="505.20" y="361.26" font-size="7.1" text-anchor="start" font-family='"Liberation Sans", sans-serif' fill="#000" stroke="#000" stroke-width="0.13">2014.17</text>
<circle cx="473.70" cy="366.70" r="1.8" fill="#006400" stroke="#003000" stroke-width="0.4"/>
<text x="470.00" y="375.36" font-size="7.1" text-anchor="start" font-family='"Liberation Sans", sans-serif' fill="#000" stroke="#000" stroke-width="0.13">2014.79</text>
<circle cx="462.20" cy="385.70" r="1.8" fill="#006400" stroke="#003000" stroke-width="0.4"/>
<text x="466.10" y="390.56" font-size="7.1" text-anchor="start" font-family='"Liberation Sans", sans-serif' fill="#000" stroke="#000" stroke-width="0.13">2015.22</text>
<circle cx="453.00" cy="404.80" r="1.8" fill="#006400" stroke="#003000" stroke-width="0.4"/>
<text x="457.40" y="409.56" font-size="7.1" text-anchor="start" font-family='"Liberation Sans", sans-serif' fill="#000" stroke="#000" stroke-width="0.13">2015.79</text>
<circle cx="452.60" cy="420.00" r="1.8" fill="#006400" stroke="#003000" stroke-width="0.4"/>
<text x="457.00" y="424.06" font-size="7.1" text-anchor="start" font-family='"Liberation Sans", sans-serif' fill="#000" stroke="#000" stroke-width="0.13">2016.17</text>
<path d="M536.10 344.60L538.70 347.20L536.10 349.80L533.50 347.20Z" fill="#0000ff" stroke="#000" stroke-width="0.4"/>
<text x="524.80" y="355.16" font-size="7.1" text-anchor="start" font-family='"Liberation Sans", sans-serif' fill="#000" stroke="#000" stroke-width="0.13">2013.68</text>
<path d="M483.50 363.70L486.10 366.30L483.50 368.90L480.90 366.30Z" fill="#0000ff" stroke="#000" stroke-width="0.4"/>
<text x="487.80" y="367.16" font-size="7.1" text-anchor="start" font-family='"Liberation Sans", sans-serif' fill="#000" stroke="#000" stroke-width="0.13">2014.58</text>
<path d="M478.70 460.40L481.30 463.00L478.70 465.60L476.10 463.00Z" fill="#0000ff" stroke="#000" stroke-width="0.4"/>
<text x="483.00" y="463.46" font-size="7.1" text-anchor="start" font-family='"Liberation Sans", sans-serif' fill="#000" stroke="#000" stroke-width="0.13">2009.42</text>
<path d="M520.90 485.40L523.50 488.00L520.90 490.60L518.30 488.00Z" fill="#0000ff" stroke="#000" stroke-width="0.4"/>
<text x="524.80" y="488.26" font-size="7.1" text-anchor="start" font-family='"Liberation Sans", sans-serif' fill="#000" stroke="#000" stroke-width="0.13">2010.26</text>
<path d="M637.80 496.90L640.40 499.50L637.80 502.10L635.20 499.50Z" fill="#0000ff" stroke="#000" stroke-width="0.4"/>
<text x="642.30" y="499.56" font-size="7.1" text-anchor="start" font-family='"Liberation Sans", sans-serif' fill="#000" stroke="#000" stroke-width="0.13">2011.47</text>
</g>
<rect x="336.8" y="296" width="398.2" height="226.79999999999995" fill="none" stroke="#666666" stroke-width="1.2"/>
<line x1="357.64" y1="296.00" x2="357.64" y2="299.00" stroke="#666666" stroke-width="0.6"/>
<line x1="357.64" y1="522.80" x2="357.64" y2="519.80" stroke="#666666" stroke-width="0.6"/>
<line x1="441.68" y1="296.00" x2="441.68" y2="299.00" stroke="#666666" stroke-width="0.6"/>
<line x1="441.68" y1="522.80" x2="441.68" y2="519.80" stroke="#666666" stroke-width="0.6"/>
<line x1="525.72" y1="296.00" x2="525.72" y2="299.00" stroke="#666666" stroke-width="0.6"/>
<line x1="525.72" y1="522.80" x2="525.72" y2="519.80" stroke="#666666" stroke-width="0.6"/>
<line x1="609.76" y1="296.00" x2="609.76" y2="299.00" stroke="#666666" stroke-width="0.6"/>
<line x1="609.76" y1="522.80" x2="609.76" y2="519.80" stroke="#666666" stroke-width="0.6"/>
<line x1="693.80" y1="296.00" x2="693.80" y2="299.00" stroke="#666666" stroke-width="0.6"/>
<line x1="693.80" y1="522.80" x2="693.80" y2="519.80" stroke="#666666" stroke-width="0.6"/>
<line x1="336.80" y1="304.10" x2="339.80" y2="304.10" stroke="#666666" stroke-width="0.6"/>
<line x1="735.00" y1="304.10" x2="732.00" y2="304.10" stroke="#666666" stroke-width="0.6"/>
<line x1="336.80" y1="346.10" x2="339.80" y2="346.10" stroke="#666666" stroke-width="0.6"/>
<line x1="735.00" y1="346.10" x2="732.00" y2="346.10" stroke="#666666" stroke-width="0.6"/>
<line x1="336.80" y1="388.10" x2="339.80" y2="388.10" stroke="#666666" stroke-width="0.6"/>
<line x1="735.00" y1="388.10" x2="732.00" y2="388.10" stroke="#666666" stroke-width="0.6"/>
<line x1="336.80" y1="430.10" x2="339.80" y2="430.10" stroke="#666666" stroke-width="0.6"/>
<line x1="735.00" y1="430.10" x2="732.00" y2="430.10" stroke="#666666" stroke-width="0.6"/>
<line x1="336.80" y1="472.10" x2="339.80" y2="472.10" stroke="#666666" stroke-width="0.6"/>
<line x1="735.00" y1="472.10" x2="732.00" y2="472.10" stroke="#666666" stroke-width="0.6"/>
<line x1="336.80" y1="514.10" x2="339.80" y2="514.10" stroke="#666666" stroke-width="0.6"/>
<line x1="735.00" y1="514.10" x2="732.00" y2="514.10" stroke="#666666" stroke-width="0.6"/>
<text x="357.64" y="530.79" font-size="7.2" text-anchor="middle" font-family='"Liberation Serif", serif' fill="#000" stroke="#000" stroke-width="0">0.08</text>
<text x="441.68" y="530.79" font-size="7.2" text-anchor="middle" font-family='"Liberation Serif", serif' fill="#000" stroke="#000" stroke-width="0">0.06</text>
<text x="525.72" y="530.79" font-size="7.2" text-anchor="middle" font-family='"Liberation Serif", serif' fill="#000" stroke="#000" stroke-width="0">0.04</text>
<text x="609.76" y="530.79" font-size="7.2" text-anchor="middle" font-family='"Liberation Serif", serif' fill="#000" stroke="#000" stroke-width="0">0.02</text>
<text x="693.80" y="530.79" font-size="7.2" text-anchor="middle" font-family='"Liberation Serif", serif' fill="#000" stroke="#000" stroke-width="0">0.00</text>
<text x="334.70" y="306.69" font-size="7.2" text-anchor="end" font-family='"Liberation Serif", serif' fill="#000" stroke="#000" stroke-width="0">0.03</text>
<text x="334.70" y="348.69" font-size="7.2" text-anchor="end" font-family='"Liberation Serif", serif' fill="#000" stroke="#000" stroke-width="0">0.02</text>
<text x="334.70" y="390.69" font-size="7.2" text-anchor="end" font-family='"Liberation Serif", serif' fill="#000" stroke="#000" stroke-width="0">0.01</text>
<text x="334.70" y="432.69" font-size="7.2" text-anchor="end" font-family='"Liberation Serif", serif' fill="#000" stroke="#000" stroke-width="0">0.00</text>
<text x="334.70" y="474.69" font-size="7.2" text-anchor="end" font-family='"Liberation Serif", serif' fill="#000" stroke="#000" stroke-width="0">&#8722;0.01</text>
<text x="334.70" y="516.69" font-size="7.2" text-anchor="end" font-family='"Liberation Serif", serif' fill="#000" stroke="#000" stroke-width="0">&#8722;0.02</text>
<text x="536.70" y="540.33" font-size="7.3" text-anchor="middle" font-family='"Liberation Sans", sans-serif' fill="#000" stroke="#000" stroke-width="0.13" textLength="53.0" lengthAdjust="spacingAndGlyphs">&#916;<tspan font-family='"Liberation Serif", serif' font-style="italic">&#945;</tspan> (arcseconds)</text>
<text x="310.00" y="411.63" font-size="7.3" text-anchor="middle" font-family='"Liberation Sans", sans-serif' fill="#000" stroke="#000" stroke-width="0.13" transform="rotate(-90 310.00 409.00)" textLength="51.3" lengthAdjust="spacingAndGlyphs">&#916;<tspan font-family='"Liberation Serif", serif' font-style="italic">&#948;</tspan> (arcseconds)</text>
<rect x="340.9" y="300.2" width="104.70000000000005" height="118.69999999999999" fill="#fff" stroke="#666666" stroke-width="1.2"/>
<line x1="346.10" y1="312.20" x2="359.50" y2="312.20" stroke="#3a9a3a" stroke-width="1.6"/>
<text x="368.90" y="310.22" font-size="8.4" text-anchor="start" font-family='"Liberation Sans", sans-serif' fill="#000" stroke="#000" stroke-width="0.13">Relative astrometry</text>
<text x="368.90" y="319.12" font-size="8.4" text-anchor="start" font-family='"Liberation Sans", sans-serif' fill="#000" stroke="#000" stroke-width="0.13">model</text>
<line x1="346.10" y1="328.00" x2="359.50" y2="328.00" stroke="#33cccc" stroke-width="1.6"/>
<text x="368.90" y="331.02" font-size="8.4" text-anchor="start" font-family='"Liberation Sans", sans-serif' fill="#000" stroke="#000" stroke-width="0.13">Full model</text>
<line x1="346.10" y1="345.90" x2="359.50" y2="345.90" stroke="#0000ff" stroke-width="1.4" stroke-dasharray="1.1,1.1"/>
<text x="368.90" y="343.22" font-size="8.4" text-anchor="start" font-family='"Liberation Sans", sans-serif' fill="#000" stroke="#000" stroke-width="0.13">Model from</text>
<text x="368.90" y="352.42" font-size="8.4" text-anchor="start" font-family='"Liberation Sans", sans-serif' fill="#000" stroke="#000" stroke-width="0.13">Rizzuto+15</text>
<circle cx="346.60" cy="361.80" r="3.2" fill="#bf00bf" stroke="#600060" stroke-width="0.5"/>
<circle cx="359.00" cy="361.80" r="3.2" fill="#bf00bf" stroke="#600060" stroke-width="0.5"/>
<text x="368.90" y="364.82" font-size="8.4" text-anchor="start" font-family='"Liberation Sans", sans-serif' fill="#000" stroke="#000" stroke-width="0.13">Ascending node</text>
<circle cx="346.60" cy="374.10" r="3.2" fill="#808080" stroke="#505050" stroke-width="0.5"/>
<circle cx="359.00" cy="374.10" r="3.2" fill="#808080" stroke="#505050" stroke-width="0.5"/>
<text x="368.90" y="377.12" font-size="8.4" text-anchor="start" font-family='"Liberation Sans", sans-serif' fill="#000" stroke="#000" stroke-width="0.13">Descending node</text>
<rect x="344.70" y="384.50" width="3.8" height="3.8" fill="#bfbf00" stroke="#606000" stroke-width="0.5"/>
<rect x="357.10" y="384.50" width="3.8" height="3.8" fill="#bfbf00" stroke="#606000" stroke-width="0.5"/>
<text x="368.90" y="389.42" font-size="8.4" text-anchor="start" font-family='"Liberation Sans", sans-serif' fill="#000" stroke="#000" stroke-width="0.13">Periastron</text>
<line x1="342.10" y1="398.70" x2="351.10" y2="398.70" stroke="#4cb84c" stroke-width="0.9"/>
<line x1="346.60" y1="394.70" x2="346.60" y2="402.70" stroke="#4cb84c" stroke-width="0.9"/>
<line x1="354.50" y1="398.70" x2="363.50" y2="398.70" stroke="#4cb84c" stroke-width="0.9"/>
<line x1="359.00" y1="394.70" x2="359.00" y2="402.70" stroke="#4cb84c" stroke-width="0.9"/>
<line x1="345.40" y1="394.70" x2="347.80" y2="394.70" stroke="#4cb84c" stroke-width="0.7"/>
<line x1="345.40" y1="402.70" x2="347.80" y2="402.70" stroke="#4cb84c" stroke-width="0.7"/>
<line x1="357.80" y1="394.70" x2="360.20" y2="394.70" stroke="#4cb84c" stroke-width="0.7"/>
<line x1="357.80" y1="402.70" x2="360.20" y2="402.70" stroke="#4cb84c" stroke-width="0.7"/>
<circle cx="346.60" cy="398.70" r="2.0" fill="#006400" stroke="#003000" stroke-width="0.4"/>
<circle cx="359.00" cy="398.70" r="2.0" fill="#006400" stroke="#003000" stroke-width="0.4"/>
<text x="368.90" y="401.72" font-size="8.4" text-anchor="start" font-family='"Liberation Sans", sans-serif' fill="#000" stroke="#000" stroke-width="0.13">Radio (this work)</text>
<line x1="342.10" y1="411.00" x2="351.10" y2="411.00" stroke="#6f6fff" stroke-width="0.9"/>
<line x1="346.60" y1="407.00" x2="346.60" y2="415.00" stroke="#6f6fff" stroke-width="0.9"/>
<line x1="354.50" y1="411.00" x2="363.50" y2="411.00" stroke="#6f6fff" stroke-width="0.9"/>
<line x1="359.00" y1="407.00" x2="359.00" y2="415.00" stroke="#6f6fff" stroke-width="0.9"/>
<line x1="345.40" y1="407.00" x2="347.80" y2="407.00" stroke="#6f6fff" stroke-width="0.7"/>
<line x1="345.40" y1="415.00" x2="347.80" y2="415.00" stroke="#6f6fff" stroke-width="0.7"/>
<line x1="357.80" y1="407.00" x2="360.20" y2="407.00" stroke="#6f6fff" stroke-width="0.7"/>
<line x1="357.80" y1="415.00" x2="360.20" y2="415.00" stroke="#6f6fff" stroke-width="0.7"/>
<path d="M346.60 408.40L349.20 411.00L346.60 413.60L344.00 411.00Z" fill="#0000ff" stroke="#000" stroke-width="0.4"/>
<path d="M359.00 408.40L361.60 411.00L359.00 413.60L356.40 411.00Z" fill="#0000ff" stroke="#000" stroke-width="0.4"/>
<text x="368.90" y="414.02" font-size="8.4" text-anchor="start" font-family='"Liberation Sans", sans-serif' fill="#000" stroke="#000" stroke-width="0.13">NIR (Rizzuto+15)</text>
<text x="610.20" y="338.11" font-size="9.2" text-anchor="start" font-family='"Liberation Sans", sans-serif' fill="#000" stroke="#000" stroke-width="0.13" textLength="80.8" lengthAdjust="spacingAndGlyphs">DoAr 51 (ROXs 47A)</text>
<clipPath id="c5"><rect x="237.3" y="552" width="298.3" height="285.20000000000005"/></clipPath>
<g clip-path="url(#c5)">
<ellipse cx="349.91" cy="693.04" rx="139.23" ry="52.85" transform="rotate(66.693 349.91 693.04)" fill="none" stroke="#30c8c8" stroke-width="1.0"/>
<line x1="279.30" y1="588.50" x2="389.30" y2="821.10" stroke="#222" stroke-width="0.9" stroke-dasharray="3,2.2"/>
<line x1="342.20" y1="728.60" x2="349.20" y2="728.60" stroke="#555" stroke-width="0.6"/>
<line x1="345.70" y1="725.10" x2="345.70" y2="732.10" stroke="#555" stroke-width="0.6"/>
<rect x="337.30" y="778.50" width="3.6" height="3.6" fill="#bfbf00" stroke="#505000" stroke-width="0.5"/>
<circle cx="279.30" cy="588.50" r="3.5" fill="#bf00bf" stroke="#500050" stroke-width="0.6"/>
<circle cx="389.30" cy="821.10" r="3.6" fill="#0000ff" stroke="#000060" stroke-width="0.6"/>
<circle cx="369.30" cy="620.70" r="2.0" fill="#006400" stroke="#003000" stroke-width="0.4"/>
<text x="372.60" y="623.69" font-size="8.3" text-anchor="start" font-family='"Liberation Sans", sans-serif' fill="#000" stroke="#000" stroke-width="0.13">2016.22</text>
<circle cx="367.80" cy="619.30" r="2.0" fill="#006400" stroke="#003000" stroke-width="0.4"/>
<text x="371.00" y="616.99" font-size="8.3" text-anchor="start" font-family='"Liberation Sans", sans-serif' fill="#000" stroke="#000" stroke-width="0.13">2016.24</text>
<circle cx="415.30" cy="721.80" r="2.0" fill="#006400" stroke="#003000" stroke-width="0.4"/>
<text x="418.50" y="724.79" font-size="8.3" text-anchor="start" font-family='"Liberation Sans", sans-serif' fill="#000" stroke="#000" stroke-width="0.13">2014.25</text>
</g>
<rect x="237.3" y="552" width="298.3" height="285.20000000000005" fill="none" stroke="#666666" stroke-width="1.2"/>
<line x1="237.10" y1="552.00" x2="237.10" y2="555.00" stroke="#666666" stroke-width="0.6"/>
<line x1="237.10" y1="837.20" x2="237.10" y2="834.20" stroke="#666666" stroke-width="0.6"/>
<line x1="291.40" y1="552.00" x2="291.40" y2="555.00" stroke="#666666" stroke-width="0.6"/>
<line x1="291.40" y1="837.20" x2="291.40" y2="834.20" stroke="#666666" stroke-width="0.6"/>
<line x1="345.70" y1="552.00" x2="345.70" y2="555.00" stroke="#666666" stroke-width="0.6"/>
<line x1="345.70" y1="837.20" x2="345.70" y2="834.20" stroke="#666666" stroke-width="0.6"/>
<line x1="400.00" y1="552.00" x2="400.00" y2="555.00" stroke="#666666" stroke-width="0.6"/>
<line x1="400.00" y1="837.20" x2="400.00" y2="834.20" stroke="#666666" stroke-width="0.6"/>
<line x1="454.30" y1="552.00" x2="454.30" y2="555.00" stroke="#666666" stroke-width="0.6"/>
<line x1="454.30" y1="837.20" x2="454.30" y2="834.20" stroke="#666666" stroke-width="0.6"/>
<line x1="508.60" y1="552.00" x2="508.60" y2="555.00" stroke="#666666" stroke-width="0.6"/>
<line x1="508.60" y1="837.20" x2="508.60" y2="834.20" stroke="#666666" stroke-width="0.6"/>
<line x1="237.30" y1="565.70" x2="240.30" y2="565.70" stroke="#666666" stroke-width="0.6"/>
<line x1="535.60" y1="565.70" x2="532.60" y2="565.70" stroke="#666666" stroke-width="0.6"/>
<line x1="237.30" y1="620.00" x2="240.30" y2="620.00" stroke="#666666" stroke-width="0.6"/>
<line x1="535.60" y1="620.00" x2="532.60" y2="620.00" stroke="#666666" stroke-width="0.6"/>
<line x1="237.30" y1="674.30" x2="240.30" y2="674.30" stroke="#666666" stroke-width="0.6"/>
<line x1="535.60" y1="674.30" x2="532.60" y2="674.30" stroke="#666666" stroke-width="0.6"/>
<line x1="237.30" y1="728.60" x2="240.30" y2="728.60" stroke="#666666" stroke-width="0.6"/>
<line x1="535.60" y1="728.60" x2="532.60" y2="728.60" stroke="#666666" stroke-width="0.6"/>
<line x1="237.30" y1="782.90" x2="240.30" y2="782.90" stroke="#666666" stroke-width="0.6"/>
<line x1="535.60" y1="782.90" x2="532.60" y2="782.90" stroke="#666666" stroke-width="0.6"/>
<line x1="237.30" y1="837.20" x2="240.30" y2="837.20" stroke="#666666" stroke-width="0.6"/>
<line x1="535.60" y1="837.20" x2="532.60" y2="837.20" stroke="#666666" stroke-width="0.6"/>
<text x="237.10" y="846.15" font-size="8.2" text-anchor="middle" font-family='"Liberation Sans", sans-serif' fill="#000" stroke="#000" stroke-width="0.13">0.04</text>
<text x="291.40" y="846.15" font-size="8.2" text-anchor="middle" font-family='"Liberation Sans", sans-serif' fill="#000" stroke="#000" stroke-width="0.13">0.02</text>
<text x="345.70" y="846.15" font-size="8.2" text-anchor="middle" font-family='"Liberation Sans", sans-serif' fill="#000" stroke="#000" stroke-width="0.13">0.00</text>
<text x="400.00" y="846.15" font-size="8.2" text-anchor="middle" font-family='"Liberation Sans", sans-serif' fill="#000" stroke="#000" stroke-width="0.13">&#8722;0.02</text>
<text x="454.30" y="846.15" font-size="8.2" text-anchor="middle" font-family='"Liberation Sans", sans-serif' fill="#000" stroke="#000" stroke-width="0.13">&#8722;0.04</text>
<text x="508.60" y="846.15" font-size="8.2" text-anchor="middle" font-family='"Liberation Sans", sans-serif' fill="#000" stroke="#000" stroke-width="0.13">&#8722;0.06</text>
<text x="234.40" y="568.65" font-size="8.2" text-anchor="end" font-family='"Liberation Sans", sans-serif' fill="#000" stroke="#000" stroke-width="0.13">0.06</text>
<text x="234.40" y="622.95" font-size="8.2" text-anchor="end" font-family='"Liberation Sans", sans-serif' fill="#000" stroke="#000" stroke-width="0.13">0.04</text>
<text x="234.40" y="677.25" font-size="8.2" text-anchor="end" font-family='"Liberation Sans", sans-serif' fill="#000" stroke="#000" stroke-width="0.13">0.02</text>
<text x="234.40" y="731.55" font-size="8.2" text-anchor="end" font-family='"Liberation Sans", sans-serif' fill="#000" stroke="#000" stroke-width="0.13">0.00</text>
<text x="234.40" y="785.85" font-size="8.2" text-anchor="end" font-family='"Liberation Sans", sans-serif' fill="#000" stroke="#000" stroke-width="0.13">&#8722;0.02</text>
<text x="234.40" y="840.15" font-size="8.2" text-anchor="end" font-family='"Liberation Sans", sans-serif' fill="#000" stroke="#000" stroke-width="0.13">&#8722;0.04</text>
<text x="386.20" y="855.65" font-size="8.2" text-anchor="middle" font-family='"Liberation Sans", sans-serif' fill="#000" stroke="#000" stroke-width="0.13" textLength="60.4" lengthAdjust="spacingAndGlyphs">&#916;<tspan font-family='"Liberation Serif", serif' font-style="italic">&#945;</tspan> (arcseconds)</text>
<text x="204.20" y="697.45" font-size="8.2" text-anchor="middle" font-family='"Liberation Sans", sans-serif' fill="#000" stroke="#000" stroke-width="0.13" transform="rotate(-90 204.20 694.50)" textLength="59.2" lengthAdjust="spacingAndGlyphs">&#916;<tspan font-family='"Liberation Serif", serif' font-style="italic">&#948;</tspan> (arcseconds)</text>
<rect x="421.3" y="556.3" width="110.19999999999999" height="66.5" fill="#fff" stroke="#666666" stroke-width="1.2"/>
<line x1="427.30" y1="563.50" x2="440.70" y2="563.50" stroke="#33cccc" stroke-width="1.6"/>
<text x="450.70" y="567.05" font-size="9.85" text-anchor="start" font-family='"Liberation Sans", sans-serif' fill="#000" stroke="#000" stroke-width="0.13" textLength="45.5943" lengthAdjust="spacingAndGlyphs">Full model</text>
<rect x="426.10" y="574.70" width="3.4" height="3.4" fill="#bfbf00" stroke="#606000" stroke-width="0.5"/>
<rect x="438.50" y="574.70" width="3.4" height="3.4" fill="#bfbf00" stroke="#606000" stroke-width="0.5"/>
<text x="450.70" y="579.95" font-size="9.85" text-anchor="start" font-family='"Liberation Sans", sans-serif' fill="#000" stroke="#000" stroke-width="0.13" textLength="44.2947" lengthAdjust="spacingAndGlyphs">Periastron</text>
<circle cx="427.80" cy="589.30" r="3.3" fill="#bf00bf" stroke="#600060" stroke-width="0.5"/>
<circle cx="440.20" cy="589.30" r="3.3" fill="#bf00bf" stroke="#600060" stroke-width="0.5"/>
<text x="450.70" y="592.85" font-size="9.85" text-anchor="start" font-family='"Liberation Sans", sans-serif' fill="#000" stroke="#000" stroke-width="0.13" textLength="70.28670000000001" lengthAdjust="spacingAndGlyphs">Ascending node</text>
<circle cx="427.80" cy="602.20" r="3.3" fill="#0000ff" stroke="#000080" stroke-width="0.5"/>
<circle cx="440.20" cy="602.20" r="3.3" fill="#0000ff" stroke="#000080" stroke-width="0.5"/>
<text x="450.70" y="605.75" font-size="9.85" text-anchor="start" font-family='"Liberation Sans", sans-serif' fill="#000" stroke="#000" stroke-width="0.13" textLength="76.45979999999999" lengthAdjust="spacingAndGlyphs">Descending node</text>
<line x1="423.30" y1="615.10" x2="432.30" y2="615.10" stroke="#4cb84c" stroke-width="0.9"/>
<line x1="427.80" y1="611.10" x2="427.80" y2="619.10" stroke="#4cb84c" stroke-width="0.9"/>
<line x1="435.70" y1="615.10" x2="444.70" y2="615.10" stroke="#4cb84c" stroke-width="0.9"/>
<line x1="440.20" y1="611.10" x2="440.20" y2="619.10" stroke="#4cb84c" stroke-width="0.9"/>
<line x1="426.60" y1="611.10" x2="429.00" y2="611.10" stroke="#4cb84c" stroke-width="0.7"/>
<line x1="426.60" y1="619.10" x2="429.00" y2="619.10" stroke="#4cb84c" stroke-width="0.7"/>
<line x1="439.00" y1="611.10" x2="441.40" y2="611.10" stroke="#4cb84c" stroke-width="0.7"/>
<line x1="439.00" y1="619.10" x2="441.40" y2="619.10" stroke="#4cb84c" stroke-width="0.7"/>
<circle cx="427.80" cy="615.10" r="2.0" fill="#006400" stroke="#003000" stroke-width="0.4"/>
<circle cx="440.20" cy="615.10" r="2.0" fill="#006400" stroke="#003000" stroke-width="0.4"/>
<text x="450.70" y="618.65" font-size="9.85" text-anchor="start" font-family='"Liberation Sans", sans-serif' fill="#000" stroke="#000" stroke-width="0.13" textLength="74.727" lengthAdjust="spacingAndGlyphs">Radio (this work)</text>
<text x="414.00" y="674.06" font-size="9.6" text-anchor="start" font-family='"Liberation Sans", sans-serif' fill="#000" stroke="#000" stroke-width="0.13" textLength="40.9" lengthAdjust="spacingAndGlyphs">ROXN 39</text>
</svg>
</body></html>
